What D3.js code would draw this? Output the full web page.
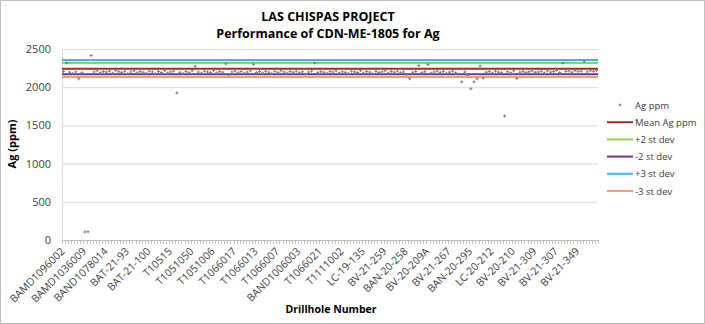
<!DOCTYPE html>
<html><head><meta charset="utf-8">
<script src="https://cdn.jsdelivr.net/npm/d3@7"></script>
<style>body{margin:0;background:#fff}svg{display:block}</style>
</head><body>
<svg id="c" width="705" height="324"></svg>
<script>
const tickLabels = ["BAMD1096002","BAMD1036009","BAND1078014","BAT-21-93","BAT-21-100","T10515","T1051050","T1051006","T1066017","T1066013","T1066007","BAND1006003","T1066021","T1111002","LC-19-135","BV-21-259","BAN-20-258","BV-20-209A","BV-21-267","BAN-20-295","LC-20-212","BV-20-210","BV-21-309","BV-21-307","BV-21-349"];
const labelInterval = 7;
const agValues = [2205,2318,2195,2180,2200,2110,2190,105,108,2415,2200,2215,2190,2205,2198,2212,2185,2220,2203,2193,2208,2178,2200,2215,2188,2205,2196,2183,2210,2200,2175,2205,2192,2218,2186,2200,2210,1925,2195,2180,2207,2190,2215,2275,2198,2185,2210,2200,2193,2220,2187,2205,2196,2305,2160,2200,2212,2190,2205,2183,2198,2215,2300,2192,2204,2186,2210,2197,2180,2208,2193,2216,2200,2185,2206,2195,2212,2189,2202,2170,2198,2210,2318,2190,2204,2196,2183,2207,2199,2214,2188,2203,2195,2180,2209,2200,2192,2217,2186,2205,2197,2175,2208,2193,2201,2215,2184,2206,2196,2211,2189,2200,2165,2110,2195,2207,2283,2190,2203,2296,2185,2199,2212,2194,2206,2181,2197,2210,2188,2170,2070,2200,2160,1980,2070,2110,2278,2118,2195,2205,2185,2210,2198,2190,1623,2202,2188,2215,2113,2196,2207,2192,2203,2214,2195,2200,2209,2186,2213,2198,2205,2220,2193,2318,2207,2212,2196,2218,2204,2210,2340,2200,2215,2208,2220];
const refNames = ["Mean Ag ppm","+2 st dev","-2 st dev","+3 st dev","-3 st dev"];
const refValues = [2243,2318,2170,2355,2132];
const refColors = ["#A8282C","#92D050","#7030A0","#3BB8E6","#F4A064"];
const yTicks = [0,500,1000,1500,2000,2500];

const svg = d3.select("#c");
const m = {l:62, r:598, t:49, b:240};
svg.append("rect").attr("x",0.5).attr("y",0.5).attr("width",704).attr("height",323)
  .attr("fill","#fff").attr("stroke","#BFBFBF");

const x = d3.scaleBand().domain(d3.range(agValues.length)).range([m.l, m.r]);
const y = d3.scaleLinear().domain([0,2500]).range([m.b, m.t]);

// gridlines
svg.append("g").selectAll("line").data(yTicks.slice(1)).join("line")
  .attr("x1",m.l).attr("x2",m.r).attr("y1",d=>y(d)+0.5).attr("y2",d=>y(d)+0.5)
  .attr("stroke","#D9D9D9");
// y axis
const ya = svg.append("g").attr("transform",`translate(${m.l},0)`)
  .call(d3.axisLeft(y).tickValues(yTicks).tickFormat(d3.format("d")).tickSize(0).tickPadding(11));
ya.select(".domain").attr("stroke","#D9D9D9");
ya.selectAll("text").attr("font-family","Open Sans").attr("font-size",11).attr("fill","#404040");

// x axis with minor ticks each category
const xa = svg.append("g").attr("transform",`translate(0,${m.b})`);
xa.append("line").attr("x1",m.l).attr("x2",m.r).attr("y1",0.5).attr("y2",0.5).attr("stroke","#BFBFBF");
xa.selectAll("line.t").data(d3.range(agValues.length+1)).join("line").attr("class","t")
  .attr("x1",d=>Math.round(m.l + d*x.step())+0.5).attr("x2",d=>Math.round(m.l + d*x.step())+0.5)
  .attr("y1",0).attr("y2",4).attr("stroke","#BFBFBF");
xa.selectAll("text").data(tickLabels).join("text")
  .attr("transform",(d,i)=>`translate(${x(i*labelInterval)+x.bandwidth()/2+2},12) rotate(-45)`)
  .attr("text-anchor","end").attr("font-family","Open Sans").attr("font-size",10.5).attr("fill","#404040")
  .text(d=>d);

// reference lines
svg.append("g").selectAll("line").data(refValues).join("line")
  .attr("x1",m.l).attr("x2",m.r).attr("y1",d=>y(d)).attr("y2",d=>y(d))
  .attr("stroke",(d,i)=>refColors[i]).attr("stroke-width",2);

// points
const cross = "M-1.5,0H1.5M0,-1.5V1.5";
svg.append("g").selectAll("path").data(agValues).join("path")
  .attr("transform",(d,i)=>`translate(${x(i)+x.bandwidth()/2},${y(d)})`)
  .attr("d",cross).attr("stroke","#7A7A7A").attr("stroke-width",1).attr("fill","none");

// titles
svg.append("text").attr("x",328).attr("y",21).attr("text-anchor","middle")
  .attr("font-family","Open Sans").attr("font-weight","bold").attr("font-size",12.5).attr("fill","#000").text("LAS CHISPAS PROJECT");
svg.append("text").attr("x",328).attr("y",38).attr("text-anchor","middle")
  .attr("font-family","Open Sans").attr("font-weight","bold").attr("font-size",12.5).attr("fill","#000").text("Performance of CDN-ME-1805 for Ag");
svg.append("text").attr("transform","translate(16,144) rotate(-90)").attr("text-anchor","middle")
  .attr("font-family","Open Sans").attr("font-weight","bold").attr("font-size",11).attr("fill","#000").text("Ag (ppm)");
svg.append("text").attr("x",331).attr("y",313).attr("text-anchor","middle")
  .attr("font-family","Open Sans").attr("font-weight","bold").attr("font-size",10.5).attr("fill","#000").text("Drillhole Number");

// legend
const lg = svg.append("g");
const rowY = i => 105 + i*17.2;
lg.append("path").attr("transform",`translate(620,${rowY(0)})`).attr("d",cross)
  .attr("stroke","#7A7A7A").attr("fill","none");
lg.append("text").attr("x",635).attr("y",rowY(0)+3.5).attr("font-family","Open Sans").attr("font-size",9.5).attr("fill","#404040").text("Ag ppm");
refNames.forEach((n,i)=>{
  lg.append("line").attr("x1",607).attr("x2",633).attr("y1",rowY(i+1)).attr("y2",rowY(i+1))
    .attr("stroke",refColors[i]).attr("stroke-width",2);
  lg.append("text").attr("x",635).attr("y",rowY(i+1)+3.5).attr("font-family","Open Sans").attr("font-size",9.5).attr("fill","#404040").text(n);
});
</script>
</body></html>
